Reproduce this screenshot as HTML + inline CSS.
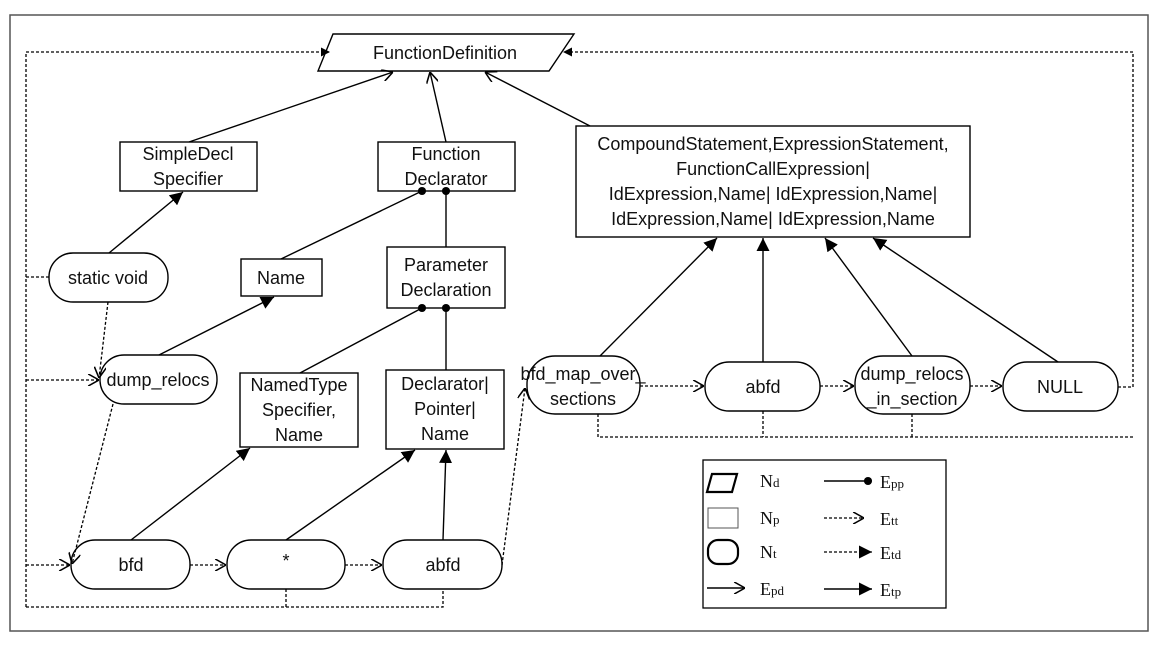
<!DOCTYPE html>
<html><head><meta charset="utf-8"><style>
html,body{margin:0;padding:0;background:#fff}
svg text{font-family:"Liberation Sans",sans-serif;font-size:18px;fill:#111}
.s{font-family:"Liberation Serif",serif;font-size:18px}
</style></head><body>
<svg width="1163" height="645" viewBox="0 0 1163 645" xmlns="http://www.w3.org/2000/svg">
<defs>
<marker id="f" viewBox="0 0 10 10" refX="10" refY="5" markerWidth="9" markerHeight="9" markerUnits="userSpaceOnUse" orient="auto"><path d="M0,0L10,5L0,10z" fill="#000"/></marker>
<marker id="f2" viewBox="0 0 10 10" refX="10" refY="5" markerWidth="13" markerHeight="13" markerUnits="userSpaceOnUse" orient="auto"><path d="M0,0L10,5L0,10z" fill="#000"/></marker>
<marker id="o" viewBox="0 0 10 10" refX="10" refY="5" markerWidth="12" markerHeight="12" markerUnits="userSpaceOnUse" orient="auto"><path d="M1,0L10,5L1,10" fill="none" stroke="#000" stroke-width="1.3"/></marker>
<marker id="d" viewBox="0 0 10 10" refX="5" refY="5" markerWidth="9" markerHeight="9" markerUnits="userSpaceOnUse"><circle cx="5" cy="5" r="4.5" fill="#000"/></marker>
</defs>
<rect x="10" y="15" width="1138" height="616" fill="none" stroke="#555" stroke-width="1.5"/>
<g fill="none" stroke="#000" stroke-width="1.4">
<polygon points="333,34 574,34 549,71 318,71" fill="#fff"/>
<rect x="120" y="142" width="137" height="49"/>
<rect x="378" y="142" width="137" height="49"/>
<rect x="576" y="126" width="394" height="111"/>
<rect x="49" y="253" width="119" height="49" rx="24"/>
<rect x="241" y="259" width="81" height="37"/>
<rect x="387" y="247" width="118" height="61"/>
<rect x="100" y="355" width="117" height="49" rx="24"/>
<rect x="240" y="373" width="118" height="74"/>
<rect x="386" y="370" width="118" height="79"/>
<rect x="71" y="540" width="119" height="49" rx="24"/>
<rect x="227" y="540" width="118" height="49" rx="24"/>
<rect x="383" y="540" width="119" height="49" rx="24"/>
<rect x="527" y="356" width="113" height="58" rx="28"/>
<rect x="705" y="362" width="115" height="49" rx="24"/>
<rect x="855" y="356" width="115" height="58" rx="28"/>
<rect x="1003" y="362" width="115" height="49" rx="24"/>
</g>
<g fill="none" stroke="#000" stroke-width="1.4">
<line x1="189" y1="142" x2="393" y2="72" marker-end="url(#o)"/>
<line x1="446" y1="142" x2="430" y2="72" marker-end="url(#o)"/>
<line x1="590" y1="126" x2="485" y2="72" marker-end="url(#o)"/>
<line x1="109" y1="253" x2="183" y2="192" marker-end="url(#f2)"/>
<line x1="281" y1="259" x2="422" y2="191" marker-end="url(#d)"/>
<line x1="446" y1="247" x2="446" y2="191" marker-end="url(#d)"/>
<line x1="159" y1="355" x2="274" y2="297" marker-end="url(#f2)"/>
<line x1="300" y1="373" x2="422" y2="308" marker-end="url(#d)"/>
<line x1="446" y1="370" x2="446" y2="308" marker-end="url(#d)"/>
<line x1="131" y1="540" x2="250" y2="448" marker-end="url(#f2)"/>
<line x1="286" y1="540" x2="415" y2="450" marker-end="url(#f2)"/>
<line x1="443" y1="540" x2="446" y2="450" marker-end="url(#f2)"/>
<line x1="600" y1="356" x2="717" y2="238" marker-end="url(#f2)"/>
<line x1="763" y1="362" x2="763" y2="238" marker-end="url(#f2)"/>
<line x1="912" y1="356" x2="825" y2="238" marker-end="url(#f2)"/>
<line x1="1058" y1="362" x2="873" y2="238" marker-end="url(#f2)"/>
</g>
<g fill="none" stroke="#000" stroke-width="1.3" stroke-dasharray="3,2">
<polyline points="26,607 26,52 330,52" marker-end="url(#f)"/>
<line x1="26" y1="277" x2="49" y2="277"/>
<line x1="26" y1="380" x2="99" y2="380" marker-end="url(#o)"/>
<line x1="26" y1="565" x2="70" y2="565" marker-end="url(#o)"/>
<line x1="108" y1="302" x2="99" y2="378" marker-end="url(#o)"/>
<line x1="113" y1="404" x2="72" y2="564" marker-end="url(#o)"/>
<line x1="190" y1="565" x2="226" y2="565" marker-end="url(#o)"/>
<line x1="345" y1="565" x2="382" y2="565" marker-end="url(#o)"/>
<polyline points="26,607 443,607 443,589"/>
<line x1="286" y1="589" x2="286" y2="607"/>
<line x1="502" y1="565" x2="525" y2="388" marker-end="url(#o)"/>
<line x1="640" y1="386" x2="704" y2="386" marker-end="url(#o)"/>
<line x1="820" y1="386" x2="854" y2="386" marker-end="url(#o)"/>
<line x1="970" y1="386" x2="1002" y2="386" marker-end="url(#o)"/>
<polyline points="1118,387 1133,387 1133,52 563,52" marker-end="url(#f)"/>
<polyline points="598,414 598,437 1133,437"/>
<line x1="763" y1="411" x2="763" y2="437"/>
<line x1="912" y1="414" x2="912" y2="437"/>
</g>
<g text-anchor="middle">
<text x="445" y="59">FunctionDefinition</text>
<text x="188" y="160">SimpleDecl</text><text x="188" y="185">Specifier</text>
<text x="446" y="160">Function</text><text x="446" y="185">Declarator</text>
<text x="773" y="150">CompoundStatement,ExpressionStatement,</text>
<text x="773" y="175">FunctionCallExpression|</text>
<text x="773" y="200">IdExpression,Name| IdExpression,Name|</text>
<text x="773" y="225">IdExpression,Name| IdExpression,Name</text>
<text x="108" y="284">static void</text>
<text x="281" y="284">Name</text>
<text x="446" y="271">Parameter</text><text x="446" y="296">Declaration</text>
<text x="158" y="386">dump_relocs</text>
<text x="299" y="391">NamedType</text><text x="299" y="416">Specifier,</text><text x="299" y="441">Name</text>
<text x="445" y="390">Declarator|</text><text x="445" y="415">Pointer|</text><text x="445" y="440">Name</text>
<text x="131" y="571">bfd</text>
<text x="286" y="567">*</text>
<text x="443" y="571">abfd</text>
<text x="583" y="380">bfd_map_over_</text><text x="583" y="405">sections</text>
<text x="763" y="393">abfd</text>
<text x="912" y="380">dump_relocs</text><text x="912" y="405">_in_section</text>
<text x="1060" y="393">NULL</text>
</g>
<rect x="703" y="460" width="243" height="148" fill="none" stroke="#000" stroke-width="1.3"/>
<polygon points="712,474 737,474 732,492 707,492" fill="none" stroke="#000" stroke-width="2.2"/>
<rect x="708" y="508" width="30" height="20" fill="none" stroke="#555" stroke-width="1"/>
<rect x="708" y="540" width="30" height="24" rx="10" fill="none" stroke="#000" stroke-width="2.2"/>
<line x1="707" y1="588" x2="745" y2="588" stroke="#000" stroke-width="1.4" marker-end="url(#o)"/>
<text class="s" x="760" y="487">N<tspan font-size="13">d</tspan></text>
<text class="s" x="760" y="524">N<tspan font-size="13">p</tspan></text>
<text class="s" x="760" y="558">N<tspan font-size="13">t</tspan></text>
<text class="s" x="760" y="595">E<tspan font-size="13">pd</tspan></text>
<line x1="824" y1="481" x2="868" y2="481" stroke="#000" stroke-width="1.4" marker-end="url(#d)"/>
<line x1="824" y1="518" x2="864" y2="518" stroke="#000" stroke-width="1.3" stroke-dasharray="3,2" marker-end="url(#o)"/>
<line x1="824" y1="552" x2="872" y2="552" stroke="#000" stroke-width="1.3" stroke-dasharray="3,2" marker-end="url(#f2)"/>
<line x1="824" y1="589" x2="872" y2="589" stroke="#000" stroke-width="1.4" marker-end="url(#f2)"/>
<text class="s" x="880" y="488">E<tspan font-size="13">pp</tspan></text>
<text class="s" x="880" y="525">E<tspan font-size="13">tt</tspan></text>
<text class="s" x="880" y="559">E<tspan font-size="13">td</tspan></text>
<text class="s" x="880" y="596">E<tspan font-size="13">tp</tspan></text>
</svg>
</body></html>
